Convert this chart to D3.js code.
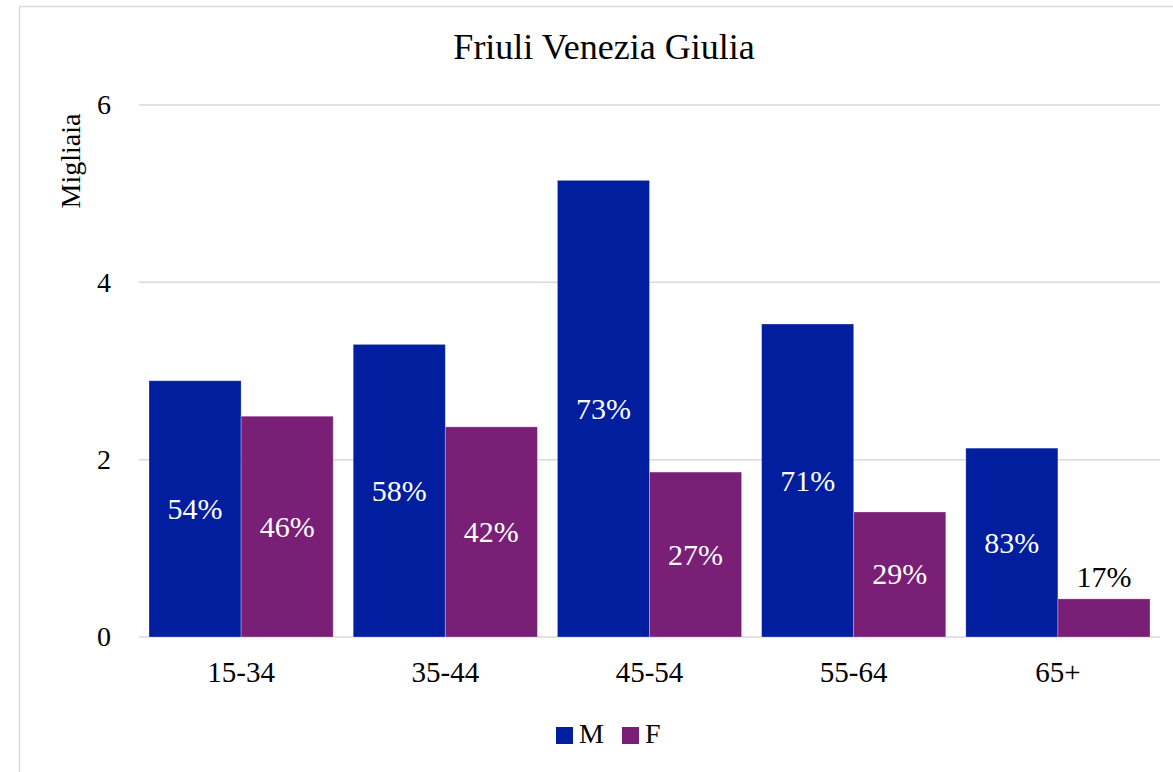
<!DOCTYPE html>
<html>
<head>
<meta charset="utf-8">
<script src="https://cdn.jsdelivr.net/npm/d3@7"></script>
<style>
  html, body { margin: 0; padding: 0; background: #ffffff; }
  svg { display: block; }
  svg text { font-family: "Liberation Serif", "DejaVu Serif", serif; }
</style>
</head>
<body>
<svg id="chart" width="1173" height="772"></svg>
<script>
// ---- data ----
const title = "Friuli Venezia Giulia";
const yAxisTitle = "Migliaia";
const categories = ["15-34", "35-44", "45-54", "55-64", "65+"];
const seriesNames = ["M", "F"];
const valuesM = [2.89, 3.30, 5.15, 3.53, 2.13];
const valuesF = [2.49, 2.37, 1.86, 1.41, 0.43];
const labelsM = ["54%", "58%", "73%", "71%", "83%"];
const labelsF = ["46%", "42%", "27%", "29%", "17%"];
const yTicks = [0, 2, 4, 6];
const colors = { M: "#001E9E", F: "#7A1F76" };

const FONT = "Liberation Serif, DejaVu Serif, serif";
const svg = d3.select("#chart");

// chart border
svg.append("rect")
  .attr("x", 19.5).attr("y", 6.5)
  .attr("width", 1200).attr("height", 800)
  .attr("fill", "#ffffff").attr("stroke", "#d9d9d9").attr("stroke-width", 1.5);

const plot = { left: 139, right: 1160, top: 105, bottom: 637 };

const x0 = d3.scaleBand().domain(categories)
  .range([plot.left, plot.right]).paddingInner(0.098).paddingOuter(0.049);
const x1 = d3.scaleBand().domain(seriesNames).range([0, x0.bandwidth()]);
const y = d3.scaleLinear().domain([0, 6]).range([plot.bottom, plot.top]);

// gridlines
svg.append("g").selectAll("line").data(yTicks).join("line")
  .attr("x1", plot.left).attr("x2", plot.right)
  .attr("y1", d => y(d)).attr("y2", d => y(d))
  .attr("stroke", "#d9d9d9").attr("stroke-width", 1.5);

// y axis labels
const yAxis = d3.axisLeft(y).tickValues(yTicks).tickSize(0).tickPadding(0).tickFormat(d3.format("d"));
const yg = svg.append("g").attr("transform", `translate(${plot.left - 28},0)`).call(yAxis)
  .attr("font-family", FONT);
yg.select(".domain").remove();
yg.selectAll("text").attr("font-size", 28).attr("fill", "#000");

// x axis labels
const xAxis = d3.axisBottom(x0).tickSize(0).tickPadding(0);
const xg = svg.append("g").attr("transform", `translate(0,${plot.bottom + 24})`).call(xAxis)
  .attr("font-family", FONT);
xg.select(".domain").remove();
xg.selectAll("text").attr("font-size", 29).attr("fill", "#000");

// bars
const rows = categories.map((c, i) => ({
  cat: c,
  items: [
    { key: "M", value: valuesM[i], label: labelsM[i] },
    { key: "F", value: valuesF[i], label: labelsF[i] }
  ]
}));

const groups = svg.append("g").selectAll("g").data(rows).join("g")
  .attr("transform", d => `translate(${x0(d.cat)},0)`);

groups.selectAll("rect").data(d => d.items).join("rect")
  .attr("x", d => x1(d.key))
  .attr("y", d => y(d.value))
  .attr("width", x1.bandwidth())
  .attr("height", d => y(0) - y(d.value))
  .attr("fill", d => colors[d.key])
  .attr("stroke", "#ffffff").attr("stroke-opacity", 0.35).attr("stroke-width", 0.8);

groups.selectAll("text.pct").data(d => d.items).join("text")
  .attr("class", "pct")
  .attr("x", d => x1(d.key) + x1.bandwidth() / 2)
  .attr("y", d => {
    const h = y(0) - y(d.value);
    if (h < 45) return y(d.value) - 12;
    return (y(d.value) + y(0)) / 2 + 10;
  })
  .attr("text-anchor", "middle")
  .attr("font-family", FONT)
  .attr("font-size", 30)
  .attr("fill", d => (y(0) - y(d.value)) < 45 ? "#000" : "#ffffff")
  .text(d => d.label);

// title
svg.append("text").attr("x", 604).attr("y", 59)
  .attr("text-anchor", "middle").attr("font-size", 36).attr("fill", "#000")
  .attr("font-family", FONT)
  .text(title);

// y axis title
svg.append("text")
  .attr("transform", `translate(80,161) rotate(-90)`)
  .attr("text-anchor", "middle").attr("font-size", 28).attr("fill", "#000")
  .attr("font-family", FONT)
  .text(yAxisTitle);

// legend
const legend = svg.append("g");
const legendX = [556, 622];
seriesNames.forEach((s, i) => {
  legend.append("rect").attr("x", legendX[i]).attr("y", 727)
    .attr("width", 17).attr("height", 17).attr("fill", colors[s]);
  legend.append("text").attr("x", legendX[i] + 23).attr("y", 743)
    .attr("font-family", FONT)
    .attr("font-size", 28).attr("fill", "#000").text(s);
});
</script>
</body>
</html>
